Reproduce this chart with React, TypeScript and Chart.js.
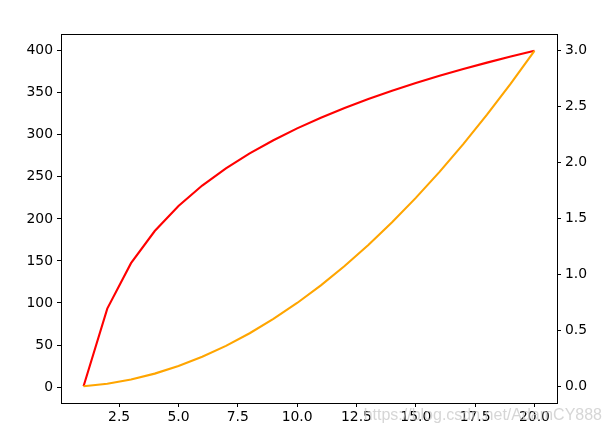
import { useEffect, useRef } from "react";
import { Chart, registerables } from "chart.js";

Chart.register(...registerables);

const xValues = [1, 2, 3, 4, 5, 6, 7, 8, 9, 10, 11, 12, 13, 14, 15, 16, 17, 18, 19, 20];
const squareValues = [1, 4, 9, 16, 25, 36, 49, 64, 81, 100, 121, 144, 169, 196, 225, 256, 289, 324, 361, 400];
const logValues = [0, 0.693, 1.099, 1.386, 1.609, 1.792, 1.946, 2.079, 2.197, 2.303, 2.398, 2.485, 2.565, 2.639, 2.708, 2.773, 2.833, 2.89, 2.944, 2.996];
const xTicks = [2.5, 5.0, 7.5, 10.0, 12.5, 15.0, 17.5, 20.0];
const leftTicks = [0, 50, 100, 150, 200, 250, 300, 350, 400];
const rightTicks = [0, 0.5, 1.0, 1.5, 2.0, 2.5, 3.0];
const watermark = "https://blog.csdn.net/AdamCY888";

const FONT = { family: "'DejaVu Sans', sans-serif", size: 13.9 };

export default function App() {
  const ref = useRef<HTMLCanvasElement | null>(null);
  useEffect(() => {
    document.body.style.margin = "0";
    const ctx = ref.current!;
    const framePlugin = {
      id: "frame",
      beforeDraw(chart: any) {
        const c = chart.ctx;
        c.save();
        c.fillStyle = "#fff";
        c.fillRect(0, 0, chart.width, chart.height);
        c.restore();
      },
      afterDraw(chart: any) {
        const { left, right, top, bottom } = chart.chartArea;
        const c = chart.ctx;
        c.save();
        c.strokeStyle = "#000";
        c.lineWidth = 1;
        c.strokeRect(Math.round(left) + 0.5, Math.round(top) + 0.5, Math.round(right - left), Math.round(bottom - top));
        c.font = "16px 'Liberation Sans', Arial, sans-serif";
        c.fillStyle = "rgba(200,200,200,0.75)";
        c.textAlign = "right";
        c.textBaseline = "middle";
        c.fillText(watermark, 602, 416);
        c.restore();
      },
    };
    const fixTicks = (vals: number[]) => (scale: any) => {
      scale.ticks = vals.map((v) => ({ value: v }));
    };
    const chart = new Chart(ctx, {
      type: "line",
      data: {
        datasets: [
          {
            label: "x^2",
            data: xValues.map((x, i) => ({ x, y: squareValues[i] })),
            borderColor: "#FFA500",
            borderWidth: 2.1,
            pointRadius: 0,
            yAxisID: "y",
            tension: 0,
          },
          {
            label: "ln(x)",
            data: xValues.map((x, i) => ({ x, y: logValues[i] })),
            borderColor: "#FF0000",
            borderWidth: 2.1,
            pointRadius: 0,
            yAxisID: "y1",
            tension: 0,
          },
        ],
      },
      options: {
        animation: false,
        responsive: false,
        events: [],
        layout: { padding: { top: 34, left: 0, right: 0, bottom: 0 } },
        plugins: { legend: { display: false }, tooltip: { enabled: false } },
        scales: {
          x: {
            type: "linear",
            min: 0.05,
            max: 20.95,
            afterBuildTicks: fixTicks(xTicks),
            afterFit: (s: any) => { s.height = 31; },
            grid: { display: true, drawOnChartArea: false, tickLength: 4, tickColor: "#000", color: "#000" },
            border: { display: false },
            ticks: { color: "#000", font: FONT, padding: 2, maxRotation: 0, autoSkip: false, callback: (v: any) => Number(v).toFixed(1) },
          },
          y: {
            type: "linear",
            position: "left",
            min: -18.95,
            max: 419.95,
            afterBuildTicks: fixTicks(leftTicks),
            afterFit: (s: any) => { s.width = 61; },
            grid: { display: true, drawOnChartArea: false, tickLength: 4, tickColor: "#000", color: "#000" },
            border: { display: false },
            ticks: { color: "#000", font: FONT, padding: 4, autoSkip: false, callback: (v: any) => String(v) },
          },
          y1: {
            type: "linear",
            position: "right",
            min: -0.1498,
            max: 3.1456,
            afterBuildTicks: fixTicks(rightTicks),
            afterFit: (s: any) => { s.width = 54; },
            grid: { display: true, drawOnChartArea: false, tickLength: 4, tickColor: "#000", color: "#000" },
            border: { display: false },
            ticks: { color: "#000", font: FONT, padding: 4, autoSkip: false, callback: (v: any) => Number(v).toFixed(1) },
          },
        },
      },
      plugins: [framePlugin],
    });
    return () => chart.destroy();
  }, []);
  return (
    <div style={{ position: "fixed", left: 0, top: 0, width: 611, height: 434 }}>
      <canvas ref={ref} width={611} height={434} style={{ width: 611, height: 434, display: "block" }} />
    </div>
  );
}
